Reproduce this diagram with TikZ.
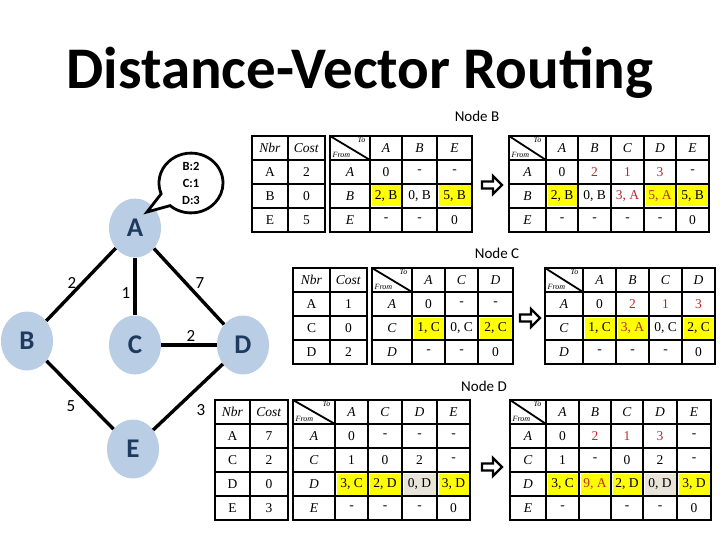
\documentclass[tikz,border=0pt]{standalone}
\usepackage{fontspec}
\setmainfont{Liberation Serif}
\newfontfamily\calfont{Carlito}
\usetikzlibrary{shapes.geometric,shapes.callouts}
\definecolor{nodefill}{HTML}{B9CDE5}
\definecolor{nodetext}{HTML}{1F3A5F}
\definecolor{yel}{HTML}{FFFF00}
\definecolor{grayc}{HTML}{E8E4DA}
\definecolor{redt}{HTML}{C0282D}
\tikzset{
  outer/.style={line width=2.2pt},
  inner/.style={line width=1.4pt},
  cell/.style={font=\fontsize{13.5}{15}\selectfont, inner sep=0pt},
  tofrom/.style={font=\itshape\fontsize{8}{8}\selectfont, inner sep=0.5pt},
  gnode/.style={ellipse, fill=nodefill, minimum width=52pt, minimum height=59pt, inner sep=0pt,
    text=nodetext, font=\calfont\bfseries\fontsize{27}{27}\selectfont},
  edge/.style={line width=3.4pt},
  elab/.style={font=\calfont\fontsize{17}{17}\selectfont, inner sep=0pt},
  ntitle/.style={font=\calfont\fontsize{15}{15}\selectfont, inner sep=0pt},
  blockarrow/.style={line width=2.2pt, fill=white, line join=miter},
}
\newcounter{cellc}
\newcommand\cl[3][black]{\stepcounter{cellc}\node[cell,text=#1] (c\arabic{cellc}) at (#2) {#3};}
\newcommand\tgrid[6]{%
  \foreach \xx in {#5} {\draw[inner] (\xx,#3) -- (\xx,#4);}
  \foreach \yy in {#6} {\draw[inner] (#1,\yy) -- (#2,\yy);}
  \draw[outer] (#1,#3) rectangle (#2,#4);}
\newcommand\diag[4]{%
  \draw[line width=1.8pt] (#1,#2) -- (#3,#4);
  \stepcounter{cellc}\node[tofrom,anchor=north east] (c\arabic{cellc}) at (#3-4,#2+1) {To};
  \stepcounter{cellc}\node[tofrom,anchor=south west] (c\arabic{cellc}) at (#1+2,#4-2) {From};}
\newcommand\yc[5][yel]{\fill[#1] (#2+1.5,#4+1.5) rectangle (#3-1.5,#5-1.5);}
\newcommand\barrow[2]{\draw[blockarrow] (#1-10,#2-3.5) -- (#1+1,#2-3.5) -- (#1+1,#2-9) -- (#1+10,#2) -- (#1+1,#2+9) -- (#1+1,#2+3.5) -- (#1-10,#2+3.5) -- cycle;}
\begin{document}
\begin{tikzpicture}[x=1pt,y=-1pt]
\useasboundingbox (0,0) rectangle (720,540);
\fill[white] (0,0) rectangle (720,540);
% title
\node[font=\calfont\bfseries\fontsize{59}{60}\selectfont, anchor=base, inner sep=0pt] (title) at (360,89) {Distance-Vector Routing};
% graph
\node[gnode] (A) at (135,228) {A};
\node[gnode] (B) at (27,341) {B};
\node[gnode] (C) at (135,345) {C};
\node[gnode] (D) at (243,345) {D};
\node[gnode] (E) at (133,449) {E};
\draw[edge] (A) -- (B);
\draw[edge] (A) -- (C);
\draw[edge] (A) -- (D);
\draw[edge] (C) -- (D);
\draw[edge] (B) -- (E);
\draw[edge] (D) -- (E);
\node[elab] (lAB) at (72,283) {2};
\node[elab] (lAC) at (126,293) {1};
\node[elab] (lAD) at (200,283) {7};
\node[elab] (lCD) at (191,336) {2};
\node[elab] (lBE) at (71,406) {5};
\node[elab] (lDE) at (201,410) {3};
\node[ellipse callout, draw, line width=2.8pt, fill=white, minimum width=64pt, minimum height=54pt,
  inner sep=0pt, callout absolute pointer={(147,212)}, callout pointer arc=28, align=center,
  font=\calfont\bfseries\fontsize{12.5}{17}\selectfont] (bub) at (191,183) {B:2\\C:1\\D:3};
% ================= Node B
\node[ntitle] (tB) at (477,116) {Node B};
\tgrid{252}{325}{136}{232}{288}{160,184,208}
\cl{270,148}{\textit{Nbr}}\cl{306.5,148}{\textit{Cost}}
\foreach \ry/\ca/\cb in {172/A/2,196/B/0,220/E/5} {\cl{270,\ry}{\ca}\cl{306.5,\ry}{\cb}}
\yc{370}{402}{184}{208}\yc{437}{472}{184}{208}
\tgrid{330}{472}{136}{232}{370,402,437}{160,184,208}
\diag{330}{136}{370}{160}
\foreach \x/\tx in {386/A,419.5/B,454.5/E} {\cl{\x,148}{\textit{\tx}}}
\foreach \y/\tx in {172/A,196/B,220/E} {\cl{350,\y}{\textit{\tx}}}
\foreach \x/\tx in {386/0,419.5/-,454.5/-} {\cl{\x,172}{\tx}}
\foreach \x/\tx in {386/{2, B},419.5/{0, B},454.5/{5, B}} {\cl{\x,196}{\tx}}
\foreach \x/\tx in {386/-,419.5/-,454.5/0} {\cl{\x,220}{\tx}}
\barrow{492}{185}
\yc{546}{578}{184}{208}\yc{644}{676}{184}{208}\yc{676}{709}{184}{208}
\tgrid{509}{709}{136}{232}{546,578,611,644,676}{160,184,208}
\diag{509}{136}{546}{160}
\foreach \x/\tx in {562/A,594.5/B,627.5/C,660/D,692.5/E} {\cl{\x,148}{\textit{\tx}}}
\foreach \y/\tx in {172/A,196/B,220/E} {\cl{527.5,\y}{\textit{\tx}}}
\foreach \x/\tx/\cc in {562/0/black,594.5/2/redt,627.5/1/redt,660/3/redt,692.5/-/black} {\cl[\cc]{\x,172}{\tx}}
\foreach \x/\tx/\cc in {562/{2, B}/black,594.5/{0, B}/black,627.5/{3, A}/redt,660/{5, A}/redt,692.5/{5, B}/black} {\cl[\cc]{\x,196}{\tx}}
\foreach \x/\tx in {562/-,594.5/-,627.5/-,660/-,692.5/0} {\cl{\x,220}{\tx}}
% ================= Node C
\node[ntitle] (tC) at (497,253) {Node C};
\tgrid{293}{367}{268}{364}{330}{292,316,340}
\cl{311.5,280}{\textit{Nbr}}\cl{348.5,280}{\textit{Cost}}
\foreach \ry/\ca/\cb in {304/A/1,328/C/0,352/D/2} {\cl{311.5,\ry}{\ca}\cl{348.5,\ry}{\cb}}
\yc{412}{445}{316}{340}\yc{478}{513}{316}{340}
\tgrid{372}{513}{268}{364}{412,445,478}{292,316,340}
\diag{372}{268}{412}{292}
\foreach \x/\tx in {428.5/A,461.5/C,495.5/D} {\cl{\x,280}{\textit{\tx}}}
\foreach \y/\tx in {304/A,328/C,352/D} {\cl{392,\y}{\textit{\tx}}}
\foreach \x/\tx in {428.5/0,461.5/-,495.5/-} {\cl{\x,304}{\tx}}
\foreach \x/\tx in {428.5/{1, C},461.5/{0, C},495.5/{2, C}} {\cl{\x,328}{\tx}}
\foreach \x/\tx in {428.5/-,461.5/-,495.5/0} {\cl{\x,352}{\tx}}
\barrow{530}{318}
\yc{583}{616}{316}{340}\yc{616}{649}{316}{340}\yc{682}{715}{316}{340}
\tgrid{545}{715}{268}{364}{583,616,649,682}{292,316,340}
\diag{545}{268}{583}{292}
\foreach \x/\tx in {599.5/A,632.5/B,665.5/C,698.5/D} {\cl{\x,280}{\textit{\tx}}}
\foreach \y/\tx in {304/A,328/C,352/D} {\cl{564,\y}{\textit{\tx}}}
\foreach \x/\tx/\cc in {599.5/0/black,632.5/2/redt,665.5/1/redt,698.5/3/redt} {\cl[\cc]{\x,304}{\tx}}
\foreach \x/\tx/\cc in {599.5/{1, C}/black,632.5/{3, A}/redt,665.5/{0, C}/black,698.5/{2, C}/black} {\cl[\cc]{\x,328}{\tx}}
\foreach \x/\tx in {599.5/-,632.5/-,665.5/-,698.5/0} {\cl{\x,352}{\tx}}
% ================= Node D
\node[ntitle] (tD) at (484,386) {Node D};
\tgrid{215}{288}{400}{520}{250}{424,448,472,496}
\cl{232.5,412}{\textit{Nbr}}\cl{269,412}{\textit{Cost}}
\foreach \ry/\ca/\cb in {436/A/7,460/C/2,484/D/0,508/E/3} {\cl{232.5,\ry}{\ca}\cl{269,\ry}{\cb}}
\yc{335}{368}{472}{496}\yc{368}{402}{472}{496}\yc[grayc]{402}{437}{472}{496}\yc{437}{470}{472}{496}
\tgrid{293}{470}{400}{520}{335,368,402,437}{424,448,472,496}
\diag{293}{400}{335}{424}
\foreach \x/\tx in {351.5/A,385/C,419.5/D,453.5/E} {\cl{\x,412}{\textit{\tx}}}
\foreach \y/\tx in {436/A,460/C,484/D,508/E} {\cl{314,\y}{\textit{\tx}}}
\foreach \x/\tx in {351.5/0,385/-,419.5/-,453.5/-} {\cl{\x,436}{\tx}}
\foreach \x/\tx in {351.5/1,385/0,419.5/2,453.5/-} {\cl{\x,460}{\tx}}
\foreach \x/\tx in {351.5/{3, C},385/{2, D},419.5/{0, D},453.5/{3, D}} {\cl{\x,484}{\tx}}
\foreach \x/\tx in {351.5/-,385/-,419.5/-,453.5/0} {\cl{\x,508}{\tx}}
\barrow{492}{467}
\yc{546}{579}{472}{496}\yc{579}{611}{472}{496}\yc{611}{643}{472}{496}\yc[grayc]{643}{677}{472}{496}\yc{677}{711}{472}{496}
\tgrid{510}{711}{400}{520}{546,579,611,643,677}{424,448,472,496}
\diag{510}{400}{546}{424}
\foreach \x/\tx in {562.5/A,595/B,627/C,660/D,694/E} {\cl{\x,412}{\textit{\tx}}}
\foreach \y/\tx in {436/A,460/C,484/D,508/E} {\cl{528,\y}{\textit{\tx}}}
\foreach \x/\tx/\cc in {562.5/0/black,595/2/redt,627/1/redt,660/3/redt,694/-/black} {\cl[\cc]{\x,436}{\tx}}
\foreach \x/\tx in {562.5/1,595/-,627/0,660/2,694/-} {\cl{\x,460}{\tx}}
\foreach \x/\tx/\cc in {562.5/{3, C}/black,595/{9, A}/redt,627/{2, D}/black,660/{0, D}/black,694/{3, D}/black} {\cl[\cc]{\x,484}{\tx}}
\foreach \x/\tx in {562.5/-,627/-,660/-,694/0} {\cl{\x,508}{\tx}}
\end{tikzpicture}
\end{document}
